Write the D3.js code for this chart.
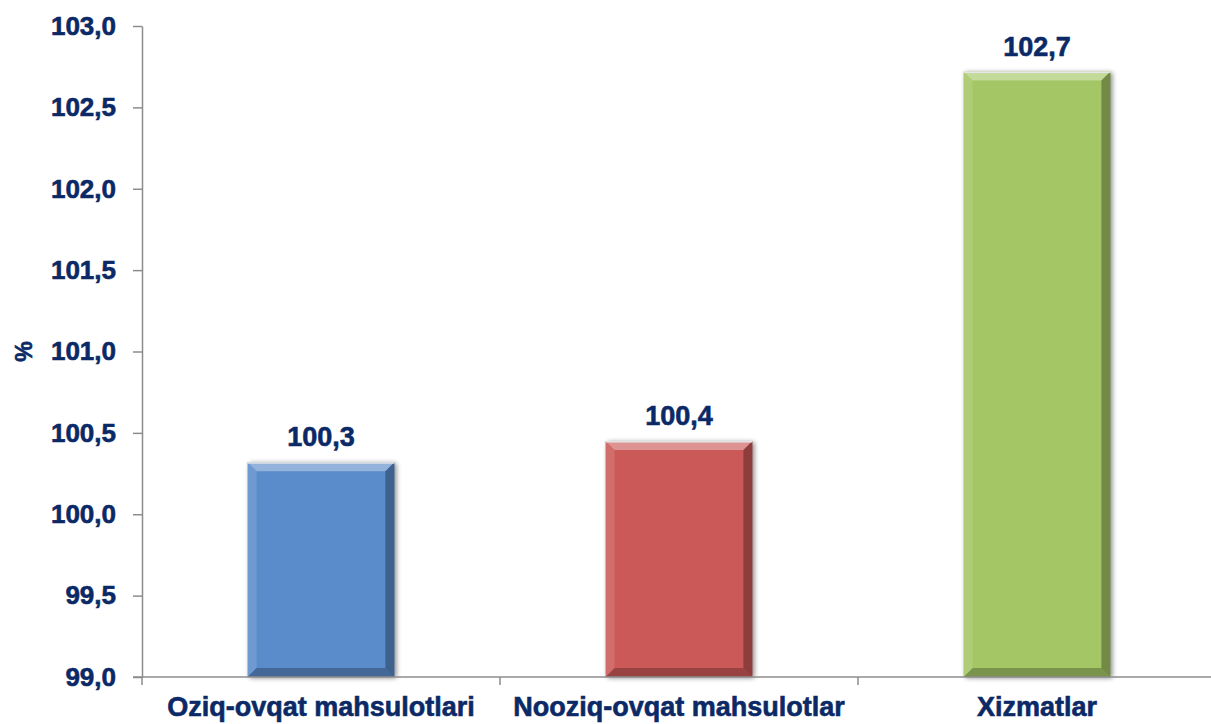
<!DOCTYPE html>
<html lang="en">
<head>
    <meta charset="UTF-8">
    <title>Narxlar indeksi</title>
    <script src="https://d3js.org/d3.v7.min.js"></script>
    <style>
        body { margin: 0; background: #fff; }
        text { font-family: "Liberation Sans", Arial, sans-serif; font-weight: bold; fill: #0b2966; stroke: #0b2966; stroke-width: 0.6; }
        .axis path, .axis line { stroke: #8c8c8c; stroke-width: 1.5; }
    </style>
</head>
<body>
    <svg width="1211" height="724"></svg>
    <script>
        // data
        var categories = ["Oziq-ovqat mahsulotlari", "Nooziq-ovqat mahsulotlar", "Xizmatlar"];
        var values = [100.32, 100.45, 102.72];
        var valueLabels = ["100,3", "100,4", "102,7"];
        var colors = ["#5a8bcb", "#cb5957", "#a4c664"];
        var yTicks = [99.0, 99.5, 100.0, 100.5, 101.0, 101.5, 102.0, 102.5, 103.0];

        var svg = d3.select("svg"),
            margin = {top: 26, right: -5, bottom: 47, left: 142},
            width = +svg.attr("width") - margin.left - margin.right,
            height = +svg.attr("height") - margin.top - margin.bottom;

        var x = d3.scaleBand().domain(categories).range([0, width]).paddingInner(0).paddingOuter(0),
            y = d3.scaleLinear().domain([99, 103]).range([height, 0]);

        var defs = svg.append("defs");
        defs.append("filter").attr("id", "shadow")
            .attr("x", "-20%").attr("y", "-20%").attr("width", "140%").attr("height", "140%")
            .append("feGaussianBlur").attr("stdDeviation", 2.5);

        var g = svg.append("g")
            .attr("transform", "translate(" + margin.left + "," + margin.top + ")");

        var barW = x.bandwidth() * 0.41;
        var bev = 9;

        var bars = g.selectAll(".bar")
            .data(values)
            .enter().append("g")
            .attr("class", "bar")
            .attr("transform", function (d, i) {
                return "translate(" + (x(categories[i]) + (x.bandwidth() - barW) / 2) + "," + y(d) + ")";
            });

        // shadow
        bars.append("rect")
            .attr("x", 2).attr("y", 1)
            .attr("width", barW).attr("height", function (d) { return height - y(d); })
            .attr("fill", "#000").attr("opacity", 0.45)
            .attr("filter", "url(#shadow)");

        bars.append("rect")
            .attr("width", barW)
            .attr("height", function (d) { return height - y(d); })
            .attr("fill", function (d, i) { return colors[i]; });

        // bevel faces
        function face(pts, col, op) {
            bars.append("polygon")
                .attr("points", function (d) {
                    var h = height - y(d);
                    return pts(h).map(function (p) { return p.join(","); }).join(" ");
                })
                .attr("fill", col).attr("opacity", op);
        }
        face(function (h) { return [[0, 0], [barW, 0], [barW - bev, bev], [bev, bev]]; }, "#fff", 0.35);
        face(function (h) { return [[0, 0], [bev, bev], [bev, h - bev], [0, h]]; }, "#fff", 0.12);
        face(function (h) { return [[barW, 0], [barW, h], [barW - bev, h - bev], [barW - bev, bev]]; }, "#000", 0.3);
        face(function (h) { return [[0, h], [bev, h - bev], [barW - bev, h - bev], [barW, h]]; }, "#000", 0.25);
        bars.append("rect")
            .attr("width", barW)
            .attr("height", 1.5)
            .attr("fill", "#e6e6e6");

        // value labels
        g.selectAll(".val")
            .data(values)
            .enter().append("text")
            .attr("class", "val")
            .attr("x", function (d, i) { return x(categories[i]) + x.bandwidth() / 2; })
            .attr("y", function (d) { return y(d) - 16; })
            .attr("text-anchor", "middle")
            .style("font-size", "27px")
            .text(function (d, i) { return valueLabels[i]; });

        // axes
        var xAxis = g.append("g")
            .attr("class", "axis axis--x")
            .attr("transform", "translate(0," + height + ")")
            .call(d3.axisBottom(x).tickSize(0).tickSizeOuter(0));
        xAxis.select(".domain").attr("d", "M-9,0H" + width);
        xAxis.selectAll(".tick text")
            .attr("y", 20)
            .attr("dy", "0.71em")
            .style("font-size", "27px");
        xAxis.selectAll(".sep")
            .data(d3.range(categories.length + 1))
            .enter().append("line")
            .attr("class", "sep")
            .attr("x1", function (i) { return i * x.bandwidth(); })
            .attr("x2", function (i) { return i * x.bandwidth(); })
            .attr("y1", 0).attr("y2", 8);

        var yAxis = g.append("g")
            .attr("class", "axis axis--y")
            .call(d3.axisLeft(y).tickValues(yTicks).tickSize(9).tickSizeOuter(0)
                .tickFormat(function (d) { return d3.format(".1f")(d).replace(".", ","); }));
        yAxis.selectAll(".tick text")
            .attr("x", -26)
            .style("font-size", "26px");

        svg.append("text")
            .attr("transform", "translate(32," + (margin.top + height / 2) + ") rotate(-90)")
            .attr("text-anchor", "middle")
            .style("font-size", "23px")
            .text("%");
    </script>
</body>
</html>
